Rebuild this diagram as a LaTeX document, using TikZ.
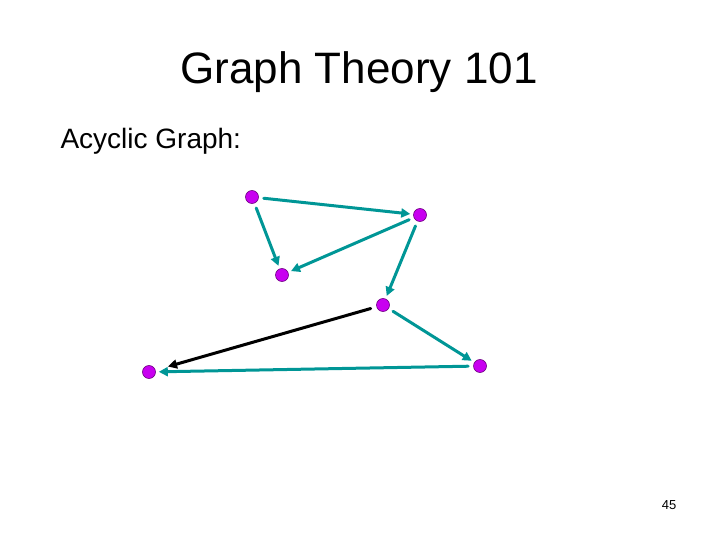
\documentclass[tikz,border=0pt]{standalone}
\usepackage{fontspec}
\setmainfont{Liberation Sans}
\usepackage{tikz}
\usetikzlibrary{arrows.meta}

\definecolor{vtxfill}{RGB}{200,0,240}
\definecolor{vtxline}{RGB}{110,0,130}
\definecolor{tealedge}{RGB}{0,150,150}

\begin{document}
\begin{tikzpicture}[x=1pt,y=-1pt,line cap=round,line join=round,
  vtx/.style={circle, fill=vtxfill, draw=vtxline, line width=0.6pt, minimum size=13pt, inner sep=0pt},
  tedge/.style={tealedge, line width=3pt, -{Triangle[length=9pt,width=9pt]}, shorten <=5pt, shorten >=3pt},
  bedge/.style={black, line width=3pt, -{Triangle[length=9pt,width=9pt]}, shorten <=6pt, shorten >=13pt}]

\useasboundingbox (0,0) rectangle (720,540);

% Titles
\node[anchor=base, font=\fontsize{44}{50}\selectfont] (title) at (359,84) {Graph Theory 101};
\node[anchor=base west, font=\fontsize{28}{32}\selectfont] (sub) at (57,149) {Acyclic Graph:};
\node[anchor=base, font=\fontsize{13}{16}\selectfont] (page) at (669,509) {45};

% Vertices
\node[vtx] (a) at (252,197) {};
\node[vtx] (b) at (420,215) {};
\node[vtx] (c) at (282,275) {};
\node[vtx] (d) at (383,305) {};
\node[vtx] (e) at (480,366) {};
\node[vtx] (f) at (149,372) {};

% Edges
\draw[tedge] (a) -- (b);
\draw[tedge] (a) -- (c);
\draw[tedge] (b) -- (c);
\draw[tedge] (b) -- (d);
\draw[tedge] (d) -- (e);
\draw[tedge] (e) -- (f);
\draw[bedge] (d) -- (f);

\end{tikzpicture}
\end{document}
